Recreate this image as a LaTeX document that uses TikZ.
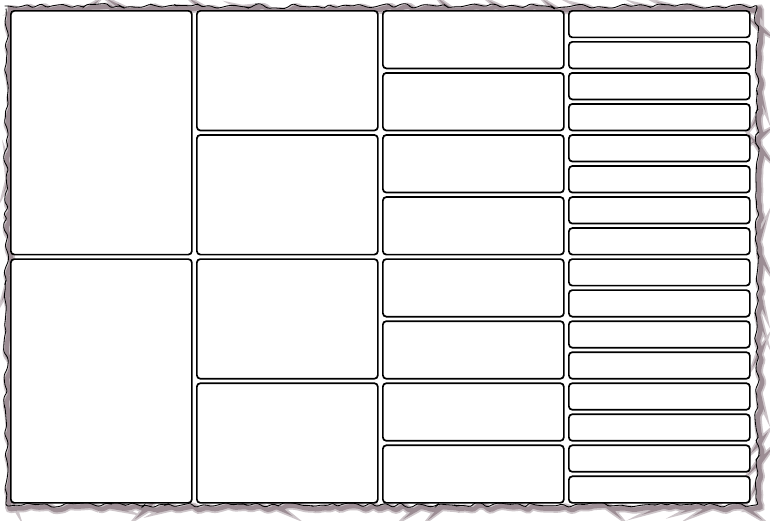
\documentclass[tikz,border=0pt]{standalone}
\usetikzlibrary{decorations.pathmorphing}
\begin{document}
\begin{tikzpicture}[x=1pt,y=-1pt,
  cell/.style={draw=black, line width=1.7pt, rounded corners=3.5pt, fill=white, inner sep=0pt, anchor=north west},
  jag/.style={decorate, decoration={random steps, segment length=6pt, amplitude=2.6pt}, rounded corners=2.5pt},
  shadowcol/.style={draw={rgb,255:red,130;green,112;blue,120}}]
  \fill[white] (0,0) rectangle (770,520);
  \useasboundingbox (0,0) rectangle (770,520);
  % shadow
  \pgfmathsetseed{7}
  \draw[jag, shadowcol, line width=8pt, opacity=0.4, shift={(3,3)}] (6,6) rectangle (757,505);
  \pgfmathsetseed{7}
  \draw[jag, shadowcol, line width=4.5pt, opacity=0.65, shift={(3,3)}] (6,6) rectangle (757,505);
  % border line
  \pgfmathsetseed{7}
  \draw[jag, line width=0.8pt, black] (6,6) rectangle (757,505);
  % cells
  \foreach \c/\n in {0/2,1/4,2/8,3/16} {
    \pgfmathsetmacro\ph{(492+4.5)/\n}
    \pgfmathsetmacro\h{\ph-4.5}
    \pgfmathtruncatemacro\last{\n-1}
    \foreach \j in {0,...,\last} {
      \node[cell, minimum width=181pt, minimum height=\h pt] (cell-\c-\j) at ({10+\c*186},{10+\j*\ph}) {};
    }
  }
\end{tikzpicture}
\end{document}
